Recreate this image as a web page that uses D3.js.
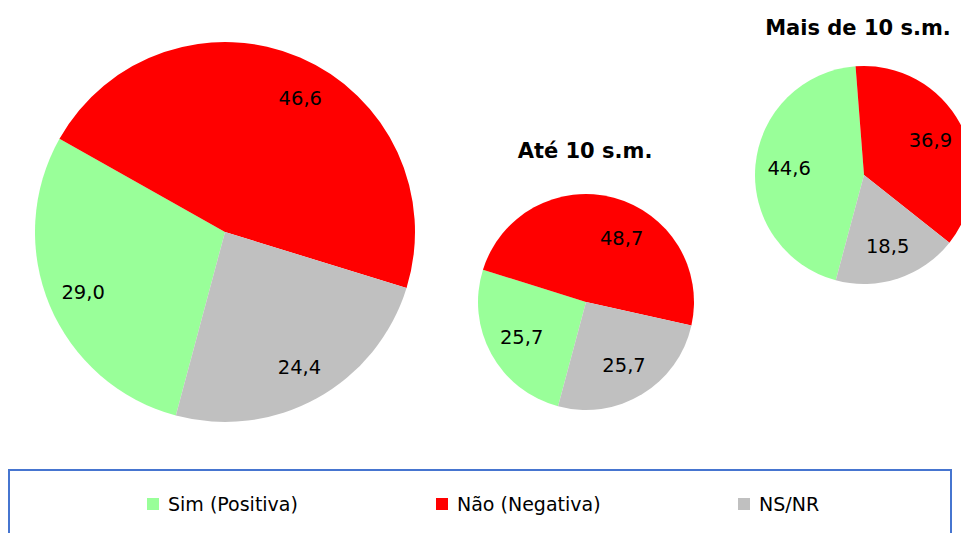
<!DOCTYPE html>
<html>
<head>
<meta charset="utf-8">
<script src="https://cdnjs.cloudflare.com/ajax/libs/d3/7.8.5/d3.min.js"></script>
<style>
  body { margin: 0; background: #fff; }
  text { font-family: "DejaVu Sans", sans-serif; fill: #000; }
</style>
</head>
<body>
<div class="canva"></div>
<script>
// data
const categories = ["Sim (Positiva)", "Não (Negativa)", "NS/NR"];
const colors = ["#99FF99", "#FF0000", "#C0C0C0"];
const total = [29.0, 46.6, 24.4];
const ate10 = [25.7, 48.7, 25.7];
const mais10 = [44.6, 36.9, 18.5];
const titles = ["", "Até 10 s.m.", "Mais de 10 s.m."];

const W = 961, H = 533;
const svg = d3.select(".canva").append("svg")
  .attr("width", W)
  .attr("height", H);

const ptBR = d3.formatLocale({decimal: ",", thousands: ".", grouping: [3], currency: ["R$", ""]});
const fmt = ptBR.format(".1f");

const rad = d => d * Math.PI / 180;
const start = rad(195);

const pie = d3.pie().sort(null).value(d => d)
  .startAngle(start).endAngle(start + 2 * Math.PI);

// layout of the three pies
const pies = [
  {values: total,  cx: 225, cy: 232, r: 190, k: 0.81, nudge: [0, 6, 0],  title: titles[0]},
  {values: ate10,  cx: 586, cy: 302, r: 108, k: 0.68, nudge: [0, 14, 0], title: titles[1], tx: 585, ty: 158},
  {values: mais10, cx: 864, cy: 175, r: 109, k: 0.69, nudge: [0, 0, 0],  title: titles[2], tx: 858, ty: 35}
];

pies.forEach(p => {
  const g = svg.append("g").attr("transform", `translate(${p.cx},${p.cy})`);
  const arc = d3.arc().innerRadius(0).outerRadius(p.r);
  const arcs = pie(p.values);

  g.selectAll("path")
    .data(arcs)
    .join("path")
    .attr("d", arc)
    .attr("fill", (d, i) => colors[i]);

  g.selectAll("text.lbl")
    .data(arcs)
    .join("text")
    .attr("class", "lbl")
    .attr("transform", (d, i) => {
      const a = (d.startAngle + d.endAngle) / 2 + rad(p.nudge[i]);
      const rr = p.r * p.k;
      return `translate(${Math.sin(a) * rr},${-Math.cos(a) * rr})`;
    })
    .attr("text-anchor", "middle")
    .attr("dy", "0.36em")
    .attr("font-size", 19.5)
    .text(d => fmt(d.data));

  if (p.title) {
    svg.append("text")
      .text(p.title)
      .attr("x", p.tx)
      .attr("y", p.ty)
      .attr("text-anchor", "middle")
      .attr("font-size", 21)
      .attr("font-weight", "bold");
  }
});

// legend
svg.append("rect")
  .attr("x", 9)
  .attr("y", 470)
  .attr("width", 942)
  .attr("height", 90)
  .attr("fill", "none")
  .attr("stroke", "#4675D0")
  .attr("stroke-width", 2);

const legendX = [147, 436, 738];
const leg = svg.selectAll("g.leg")
  .data(categories)
  .join("g")
  .attr("class", "leg")
  .attr("transform", (d, i) => `translate(${legendX[i]},498)`);

leg.append("rect")
  .attr("width", 12)
  .attr("height", 12)
  .attr("fill", (d, i) => colors[i]);

leg.append("text")
  .text(d => d)
  .attr("x", 21)
  .attr("y", 13)
  .attr("font-size", 19);
</script>
</body>
</html>
